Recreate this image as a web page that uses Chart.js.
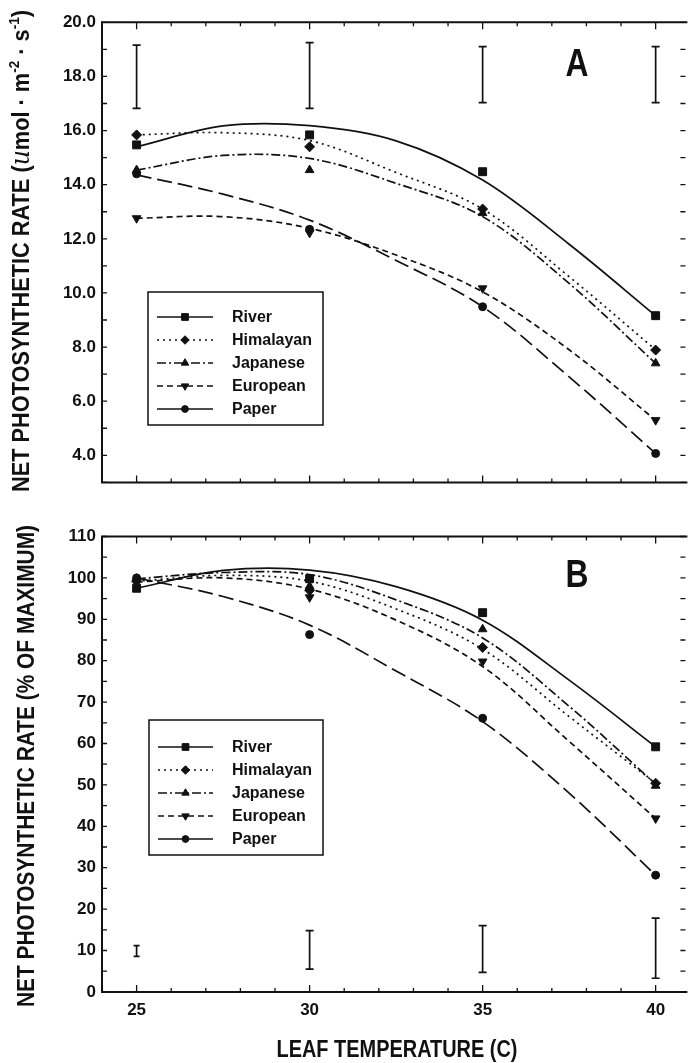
<!DOCTYPE html>
<html>
<head>
<meta charset="utf-8">
<script src="https://cdn.jsdelivr.net/npm/chart.js@4.4.0/dist/chart.umd.min.js"></script>
<style>
  body { margin: 0; background: #fff; }
  canvas { display: block; }
</style>
</head>
<body>
<canvas id="chartA" width="692" height="500"></canvas>
<canvas id="chartB" width="692" height="563"></canvas>
<script>
// leaf temperatures (C) where rates were measured, and where the fitted curves were read
const temps = [25, 30, 35, 40];
const fitTemps = [25, 27.5, 30, 32.5, 35, 37.5, 40];
const xTickLabels = [25, 30, 35, 40];
const seriesNames = ['River', 'Himalayan', 'Japanese', 'European', 'Paper'];

// panel A - umol m-2 s-1
const riverA = [15.47, 15.84, 14.48, 9.16];
const himalayanA = [15.84, 15.40, 13.10, 7.89];
const japaneseA = [14.54, 14.54, 12.95, 7.40];
const europeanA = [12.76, 12.22, 10.17, 5.30];
const paperA = [14.40, 12.35, 9.49, 4.07];

const riverFitA = [15.40, 16.17, 16.18, 15.62, 14.17, 11.80, 9.16];
const himalayanFitA = [15.84, 15.92, 15.63, 14.45, 13.10, 10.60, 7.90];
const japaneseFitA = [14.54, 15.08, 14.97, 14.05, 12.82, 10.35, 7.40];
const europeanFitA = [12.76, 12.82, 12.39, 11.40, 10.04, 7.90, 5.30];
const paperFitA = [14.36, 13.65, 12.69, 11.20, 9.49, 6.90, 4.07];

const errLowA = [16.82, 16.82, 17.03, 17.03];
const errHighA = [19.16, 19.25, 19.10, 19.10];

// panel B - % of maximum
const riverB = [97.5, 99.8, 91.6, 59.2];
const himalayanB = [99.2, 97.0, 83.2, 50.4];
const japaneseB = [99.8, 98.0, 87.6, 49.8];
const europeanB = [99.0, 95.3, 79.8, 41.9];
const paperB = [100.0, 86.3, 66.1, 28.2];

const riverFitB = [97.5, 101.8, 101.9, 97.9, 89.8, 75.3, 59.2];
const himalayanFitB = [99.2, 100.6, 99.2, 92.5, 82.8, 66.5, 50.4];
const japaneseFitB = [99.8, 101.3, 100.8, 94.7, 85.5, 69.0, 50.2];
const europeanFitB = [99.0, 100.0, 97.3, 89.8, 78.6, 60.5, 41.9];
const paperFitB = [100.0, 95.5, 88.6, 77.5, 65.3, 48.0, 28.2];

const errLowB = [8.6, 5.5, 4.7, 3.3];
const errHighB = [11.2, 14.8, 16.0, 17.8];

const xTitle = 'LEAF TEMPERATURE (C)';
const yTitleA = ['NET PHOTOSYNTHETIC RATE (', 'u', 'mol \u00b7 m', '-2', ' \u00b7 s', '-1', ')'];
const yTitleB = 'NET PHOTOSYNTHETIC RATE (% OF MAXIMUM)';

const ink = '#111';
const styles = {
  River:     { pointStyle: 'rect',     radius: 5.6, rotation: 0,   dash: [],           legendDash: [] },
  Himalayan: { pointStyle: 'rectRot',  radius: 5,   rotation: 0,   dash: [2, 4],       legendDash: [2, 4] },
  Japanese:  { pointStyle: 'triangle', radius: 5,   rotation: 0,   dash: [9, 3, 2, 3], legendDash: [9, 3, 2, 3] },
  European:  { pointStyle: 'triangle', radius: 5,   rotation: 180, dash: [6, 4],       legendDash: [6, 4] },
  Paper:     { pointStyle: 'circle',   radius: 4,   rotation: 0,   dash: [15, 6],      legendDash: [] }
};
const tickFont = { family: "'Liberation Sans', Arial, sans-serif", size: 17, weight: 'bold' };

function pairs(xs, ys) {
  return xs.map((x, i) => ({ x: x, y: ys[i] }));
}

function buildDatasets(points, fits, errLow, errHigh, caps) {
  const sets = [];
  errLow.forEach((lo, i) => {
    sets.push({
      data: [{ x: temps[i], y: lo }, { x: temps[i], y: errHigh[i] }],
      showLine: true, borderColor: ink, borderWidth: 1.7,
      pointStyle: 'line', pointRadius: caps[i], pointBorderColor: ink, pointBorderWidth: 1.7
    });
  });
  seriesNames.forEach((name, i) => {
    sets.push({
      data: pairs(fitTemps, fits[i]),
      showLine: true, borderColor: ink, borderWidth: 1.7, borderDash: styles[name].dash,
      pointRadius: 0, tension: 0.35
    });
  });
  seriesNames.forEach((name, i) => {
    const st = styles[name];
    sets.push({
      data: pairs(temps, points[i]),
      showLine: false, pointStyle: st.pointStyle, pointRotation: st.rotation, pointRadius: st.radius,
      pointBackgroundColor: ink, pointBorderColor: ink, pointBorderWidth: 1
    });
  });
  return sets;
}

// text drawn squeezed or stretched to a target length, optionally rotated
function drawStretched(ctx, pieces, cx, cy, length, rotate) {
  ctx.save();
  let total = 0;
  const widths = pieces.map(p => { ctx.font = p.font; const w = ctx.measureText(p.text).width; total += w; return w; });
  ctx.translate(cx, cy);
  if (rotate) ctx.rotate(-Math.PI / 2);
  ctx.scale(length / total, 1);
  ctx.fillStyle = ink;
  ctx.textBaseline = 'middle';
  ctx.textAlign = 'left';
  let cur = -total / 2;
  pieces.forEach((p, i) => {
    ctx.font = p.font;
    ctx.fillText(p.text, cur, -(p.rise || 0));
    cur += widths[i];
  });
  ctx.restore();
}

const frameTicks = {
  id: 'frameTicks',
  afterDraw(chart) {
    const { ctx, chartArea: a, scales: { x, y } } = chart;
    ctx.save();
    ctx.strokeStyle = ink;
    ctx.setLineDash([]);
    ctx.lineWidth = 2;
    ctx.beginPath();
    ctx.moveTo(a.right + 2, a.top);
    ctx.lineTo(a.left, a.top);
    ctx.lineTo(a.left, a.bottom);
    ctx.lineTo(a.right + 2, a.bottom);
    ctx.stroke();
    ctx.lineWidth = 1.3;
    ctx.beginPath();
    x.ticks.filter(t => Number.isInteger(t.value)).forEach(t => {
      const px = x.getPixelForValue(t.value);
      const len = t.value % 5 === 0 ? 7 : 4;
      ctx.moveTo(px, a.bottom); ctx.lineTo(px, a.bottom - len);
      ctx.moveTo(px, a.top); ctx.lineTo(px, a.top + len);
    });
    y.ticks.forEach(t => {
      const py = y.getPixelForValue(t.value);
      ctx.moveTo(a.left, py); ctx.lineTo(a.left + 5, py);
      ctx.moveTo(a.right, py); ctx.lineTo(a.right - 5, py);
    });
    ctx.stroke();
    ctx.restore();
  }
};

const panelText = {
  id: 'panelText',
  afterDraw(chart, args, opts) {
    const ctx = chart.ctx;
    // panel letter
    drawStretched(ctx, [{ text: opts.letter, font: "bold 38px 'Liberation Sans', Arial, sans-serif" }],
      opts.letterPos[0], opts.letterPos[1], 23, false);
    // y title
    drawStretched(ctx, opts.yTitle, opts.yTitlePos[0], opts.yTitlePos[1], opts.yTitleLen, true);
    // x title
    if (opts.xTitle) drawStretched(ctx, opts.xTitle, opts.xTitlePos[0], opts.xTitlePos[1], opts.xTitleLen, false);
    // legend box
    const L = opts.legend;
    ctx.save();
    ctx.fillStyle = '#fff';
    ctx.fillRect(L.x0, L.y0, L.x1 - L.x0, L.y1 - L.y0);
    ctx.strokeStyle = ink;
    ctx.lineWidth = 1.5;
    ctx.strokeRect(L.x0, L.y0, L.x1 - L.x0, L.y1 - L.y0);
    seriesNames.forEach((name, i) => {
      const st = styles[name];
      const yy = L.firstY + i * L.step;
      ctx.setLineDash(st.legendDash);
      ctx.lineWidth = 1.7;
      ctx.beginPath();
      ctx.moveTo(L.lineX0, yy);
      ctx.lineTo(L.lineX1, yy);
      ctx.stroke();
      ctx.setLineDash([]);
      ctx.fillStyle = ink;
      ctx.lineWidth = 1;
      Chart.helpers.drawPoint(ctx, { pointStyle: st.pointStyle, rotation: st.rotation, radius: st.radius * 0.85, borderWidth: 1 },
        (L.lineX0 + L.lineX1) / 2, yy);
      ctx.font = "bold 16px 'Liberation Sans', Arial, sans-serif";
      ctx.textBaseline = 'middle';
      ctx.fillText(name, L.textX, yy + 1);
    });
    ctx.restore();
  }
};

function buildOptions(p) {
  return {
    responsive: false,
    animation: false,
    layout: { padding: { left: 0, right: 1, top: p.top, bottom: 0 } },
    plugins: {
      legend: { display: false },
      tooltip: { enabled: false },
      panelText: p.text
    },
    scales: {
      x: {
        type: 'linear', min: 24, max: 40.86,
        afterFit: s => { s.height = p.xHeight; },
        grid: { display: false, drawTicks: false },
        border: { display: false },
        ticks: {
          display: p.xLabels, stepSize: 1, autoSkip: false, includeBounds: false, maxRotation: 0, padding: 8,
          color: ink, font: tickFont,
          callback: v => xTickLabels.includes(v) ? String(v) : ''
        }
      },
      y: {
        type: 'linear', min: p.yMin, max: p.yMax,
        afterFit: s => { s.width = 102; },
        grid: { display: false, drawTicks: false },
        border: { display: false },
        ticks: { stepSize: p.yStep, autoSkip: false, padding: 6, color: ink, font: tickFont, callback: p.yLabel }
      }
    }
  };
}

const titleFont = "bold 24px 'Liberation Sans', Arial, sans-serif";
const supFont = "bold 15px 'Liberation Sans', Arial, sans-serif";

new Chart(document.getElementById('chartA'), {
  type: 'scatter',
  data: {
    datasets: buildDatasets(
      [riverA, himalayanA, japaneseA, europeanA, paperA],
      [riverFitA, himalayanFitA, japaneseFitA, europeanFitA, paperFitA],
      errLowA, errHighA, [4, 4, 4, 4])
  },
  options: buildOptions({
    top: 22.3, xHeight: 17.6, xLabels: false, yMin: 3, yMax: 20, yStep: 1,
    yLabel: v => (v >= 4 && Math.round(v) % 2 === 0) ? v.toFixed(1) : '',
    text: {
      letter: 'A', letterPos: [577, 66],
      yTitle: [
        { text: yTitleA[0], font: titleFont },
        { text: yTitleA[1], font: "italic 26px 'DejaVu Serif', serif" },
        { text: yTitleA[2], font: titleFont },
        { text: yTitleA[3], font: supFont, rise: 7 },
        { text: yTitleA[4], font: titleFont },
        { text: yTitleA[5], font: supFont, rise: 7 },
        { text: yTitleA[6], font: titleFont }
      ],
      yTitlePos: [22, 251], yTitleLen: 482,
      legend: { x0: 148, y0: 292, x1: 323, y1: 425, firstY: 317, step: 23, lineX0: 157, lineX1: 213, textX: 232 }
    }
  }),
  plugins: [frameTicks, panelText]
});

new Chart(document.getElementById('chartB'), {
  type: 'scatter',
  data: {
    datasets: buildDatasets(
      [riverB, himalayanB, japaneseB, europeanB, paperB],
      [riverFitB, himalayanFitB, japaneseFitB, europeanFitB, paperFitB],
      errLowB, errHighB, [3, 4, 4, 4])
  },
  options: buildOptions({
    top: 36.5, xHeight: 71.1, xLabels: true, yMin: 0, yMax: 110, yStep: 5,
    yLabel: v => v % 10 === 0 ? String(v) : '',
    text: {
      letter: 'B', letterPos: [577, 77],
      yTitle: [{ text: yTitleB, font: titleFont }],
      yTitlePos: [27, 266], yTitleLen: 482,
      xTitle: [{ text: xTitle, font: "bold 23px 'Liberation Sans', Arial, sans-serif" }],
      xTitlePos: [397, 551], xTitleLen: 241,
      legend: { x0: 149, y0: 220, x1: 323, y1: 355, firstY: 247, step: 23, lineX0: 158, lineX1: 213, textX: 232 }
    }
  }),
  plugins: [frameTicks, panelText]
});
</script>
</body>
</html>
